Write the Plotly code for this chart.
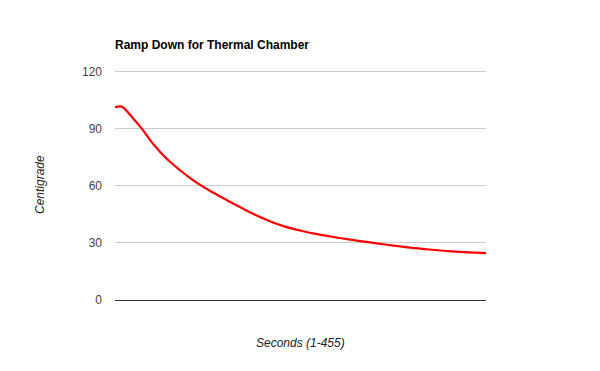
import plotly.graph_objects as go

seconds = [1, 9, 15, 23, 34, 44, 56, 68, 81, 93, 107, 121, 138, 152, 168, 189, 209,
           230, 250, 270, 291, 306, 321, 342, 362, 382, 403, 423, 443, 455]
temps = [101.4, 101.7, 99.6, 95.6, 90.0, 84.1, 78.0, 72.8, 68.1, 64.1, 60.0, 56.5,
         52.5, 49.3, 45.7, 41.7, 38.6, 36.3, 34.5, 33.0, 31.6, 30.7, 29.8, 28.6,
         27.5, 26.7, 25.9, 25.3, 24.9, 24.6]
y_ticks = [0, 30, 60, 90, 120]

fig = go.Figure()
fig.add_trace(go.Scatter(x=seconds, y=temps, mode="lines",
                         line=dict(color="#ff0000", width=2.2, shape="spline", smoothing=1.0),
                         hoverinfo="skip", showlegend=False))

font = "Liberation Sans, Arial, sans-serif"
W, H = 592, 363  # page body has an 8px margin
fig.update_layout(
    width=W, height=H,
    margin=dict(l=107, r=114, t=60, b=71),
    paper_bgcolor="white", plot_bgcolor="white",
    font=dict(family=font, size=12, color="#444444"),
    title=dict(text="<b>Ramp Down for Thermal Chamber</b>", x=107/W, xanchor="left",
               y=1-37/H, yanchor="middle", font=dict(family=font, size=12, color="#000000")),
    xaxis=dict(range=[1, 455], showgrid=False, showticklabels=False, zeroline=False,
               showline=False, ticks=""),
    yaxis=dict(range=[0, 122], tickvals=y_ticks, ticktext=[str(v) for v in y_ticks],
               showgrid=True, gridcolor="#cccccc", gridwidth=1, zeroline=True,
               zerolinecolor="#333333", zerolinewidth=1, showline=False,
               ticks="", ticklabelstandoff=12, tickfont=dict(size=12, color="#444444")),
    annotations=[
        dict(text="<i>Seconds (1-455)</i>", xref="paper", yref="paper", x=0.5, y=-43/232,
             xanchor="center", yanchor="middle", showarrow=False,
             font=dict(family=font, size=12, color="#222222")),
        dict(text="<i>Centigrade</i>", xref="paper", yref="paper", x=-75/371, y=115/232,
             xanchor="center", yanchor="middle", textangle=-90, showarrow=False,
             font=dict(family=font, size=12, color="#222222")),
    ],
)
fig.write_html("out.html")
